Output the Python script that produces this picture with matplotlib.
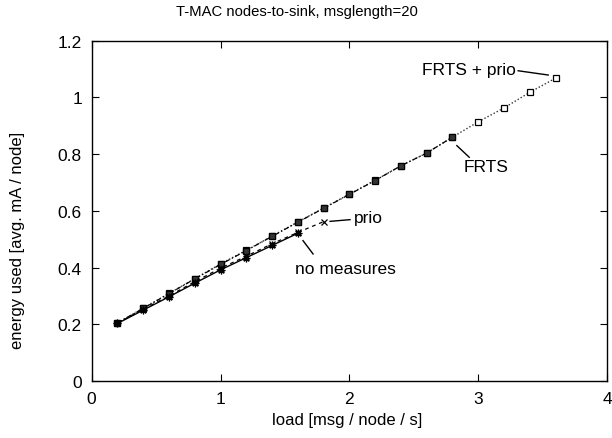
import matplotlib
matplotlib.use("Agg")
import matplotlib.pyplot as plt

plt.rcParams['font.family'] = ['Liberation Sans', 'DejaVu Sans']

# load [msg / node / s]
load_nm = [0.2, 0.4, 0.6, 0.8, 1.0, 1.2, 1.4, 1.6]
load_prio = [0.2, 0.4, 0.6, 0.8, 1.0, 1.2, 1.4, 1.6, 1.8]
load_frts = [0.2, 0.4, 0.6, 0.8, 1.0, 1.2, 1.4, 1.6, 1.8, 2.0, 2.2, 2.4, 2.6, 2.8]
load_fp = [0.2, 0.4, 0.6, 0.8, 1.0, 1.2, 1.4, 1.6, 1.8, 2.0, 2.2, 2.4, 2.6, 2.8,
           3.0, 3.2, 3.4, 3.6]

# energy used [avg. mA / node]
e_nm = [0.203, 0.250, 0.297, 0.345, 0.392, 0.435, 0.478, 0.521]
e_prio = [0.204, 0.253, 0.300, 0.350, 0.398, 0.440, 0.484, 0.524, 0.562]
e_frts = [0.205, 0.256, 0.308, 0.360, 0.411, 0.460, 0.510, 0.560, 0.609,
          0.658, 0.707, 0.759, 0.804, 0.860]
e_fp = [0.205, 0.257, 0.309, 0.361, 0.413, 0.461, 0.511, 0.561, 0.610,
        0.659, 0.708, 0.759, 0.804, 0.860, 0.914, 0.963, 1.018, 1.068]

fig = plt.figure(figsize=(6.12, 4.39), dpi=100)
ax = fig.add_axes([0.1498, 0.1298, 0.8422, 0.7752])

# drawn back to front so overlapping squares look dark, like the original
ax.plot(load_fp, e_fp, color='#333333', lw=1.0, ls=(0, (1, 1.5)),
        marker='s', ms=4.5, mfc='white', mec='black', mew=0.9)
ax.plot(load_frts, e_frts, color='black', lw=0.9, ls=(0, (4, 2, 1, 2)),
        marker='s', ms=4.5, mfc='#333333', mec='black', mew=0.9)
ax.plot(load_prio, e_prio, color='black', lw=0.9, ls=(0, (3, 3)),
        marker='x', ms=5, mew=0.9)
ax.plot(load_nm, e_nm, color='black', lw=1.0, ls='-',
        marker=(8, 2, 0), ms=5.5, mew=0.9)

# labels with pointer lines
fs = 12.5
ax.text(3.29, 1.097, 'FRTS + prio', ha='right', va='center', fontsize=fs)
ax.plot([3.31, 3.543], [1.094, 1.079], color='black', lw=1.0)
ax.text(2.883, 0.755, 'FRTS', ha='left', va='center', fontsize=fs)
ax.plot([2.834, 2.93], [0.830, 0.789], color='black', lw=1.0)
ax.text(2.037, 0.577, 'prio', ha='left', va='center', fontsize=fs)
ax.plot([1.85, 2.005], [0.563, 0.569], color='black', lw=1.0)
ax.text(1.58, 0.395, 'no measures', ha='left', va='center', fontsize=fs)
ax.plot([1.64, 1.718], [0.495, 0.448], color='black', lw=1.0)

ax.set_xlim(0, 4)
ax.set_ylim(0, 1.2)
ax.set_xticks([0, 1, 2, 3, 4])
ax.set_yticks([0, 0.2, 0.4, 0.6, 0.8, 1.0, 1.2])
ax.set_yticklabels(['0', '0.2', '0.4', '0.6', '0.8', '1', '1.2'])
ax.tick_params(direction='in', length=5, width=0.8, top=True, right=True,
               labelsize=12.5, pad=7)
for s in ax.spines.values():
    s.set_linewidth(1.0)

fig.text(297 / 612, 1 - 12 / 439, 'T-MAC nodes-to-sink, msglength=20',
         ha='center', va='center', fontsize=10.7)
fig.text(347 / 612, 1 - 421 / 439, 'load [msg / node / s]',
         ha='center', va='center', fontsize=12)
fig.text(18 / 612, 1 - 240 / 439, 'energy used [avg. mA / node]',
         ha='center', va='center', rotation=90, fontsize=12)

fig.savefig('out.png', dpi=100)
